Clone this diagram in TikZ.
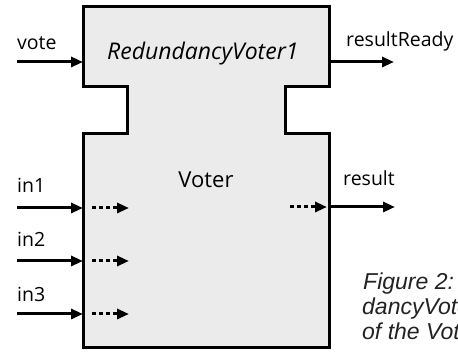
\documentclass[tikz,border=0pt]{standalone}
\usepackage{fontspec}
\setmainfont{Open Sans}
\newfontfamily\capfont{Liberation Sans}
\usetikzlibrary{arrows.meta}
\definecolor{boxfill}{HTML}{EBEBEB}
\definecolor{captext}{HTML}{222222}
\tikzset{
  outline/.style={draw=black, fill=boxfill, line width=3pt, line join=miter},
  flow/.style={line width=3pt, -{Triangle[length=12pt,width=10pt]}},
  innerflow/.style={line width=3pt, dash pattern=on 3.5pt off 3.5pt, -{Triangle[length=12pt,width=10pt]}},
  portlabel/.style={anchor=base west, inner sep=0pt, font=\fontsize{19.5}{23}\selectfont},
  caption/.style={anchor=base west, inner sep=0pt, text=captext, font=\capfont\itshape\fontsize{23}{25}\selectfont},
}
\begin{document}
\begin{tikzpicture}[x=1pt,y=-1pt]
\useasboundingbox (0,0) rectangle (458,352);
\clip (0,0) rectangle (458,352);

% component body with the two side notches
\draw[outline] (83,7) -- (329,7) -- (329,87) -- (285,87) -- (285,134) -- (329,134)
  -- (329,348) -- (83,348) -- (83,134) -- (127,134) -- (127,87) -- (83,87) -- cycle;

\node[anchor=base west, inner sep=0pt, font=\itshape\fontsize{23}{26}\selectfont] (title) at (107,60) {RedundancyVoter1};
\node[anchor=base, inner sep=0pt, font=\fontsize{22}{26}\selectfont] (voter) at (206,188) {Voter};

% ports on the left edge
\coordinate (voteIn) at (17,62);    \coordinate (voteP) at (83,62);
\coordinate (in1In) at (17,208);    \coordinate (in1P) at (83,208);
\coordinate (in2In) at (17,261);    \coordinate (in2P) at (83,261);
\coordinate (in3In) at (17,314);    \coordinate (in3P) at (83,314);
\coordinate (in1S) at (92,208);     \coordinate (in1T) at (129,208);
\coordinate (in2S) at (92,261);     \coordinate (in2T) at (129,261);
\coordinate (in3S) at (92,314);     \coordinate (in3T) at (129,314);
% ports on the right edge
\coordinate (readyP) at (329,62);   \coordinate (readyOut) at (394,62);
\coordinate (resS) at (290,207);    \coordinate (resT) at (327,207);
\coordinate (resP) at (329,207);    \coordinate (resOut) at (395,207);

\node[portlabel] (vote) at (17,50) {vote};
\node[portlabel] (ready) at (346,47) {resultReady};
\node[portlabel] (in1) at (17,193) {in1};
\node[portlabel] (in2) at (17,247) {in2};
\node[portlabel] (in3) at (17,302) {in3};
\node[portlabel] (result) at (343,186) {result};

\draw[flow] (voteIn) -- (voteP);
\draw[flow] (readyP) -- (readyOut);
\draw[flow] (in1In) -- (in1P);
\draw[flow] (in2In) -- (in2P);
\draw[flow] (in3In) -- (in3P);
\draw[innerflow] (in1S) -- (in1T);
\draw[innerflow] (in2S) -- (in2T);
\draw[innerflow] (in3S) -- (in3T);
\draw[innerflow] (resS) -- (resT);
\draw[flow] (resP) -- (resOut);

% caption lines, running off the right edge
\node[caption] (cap1) at (363,290) {Figure 2:};
\node[caption] (cap2) at (362,315) {dancyVoter1};
\node[caption] (cap3) at (362,340) {of the Voter};
\end{tikzpicture}
\end{document}
